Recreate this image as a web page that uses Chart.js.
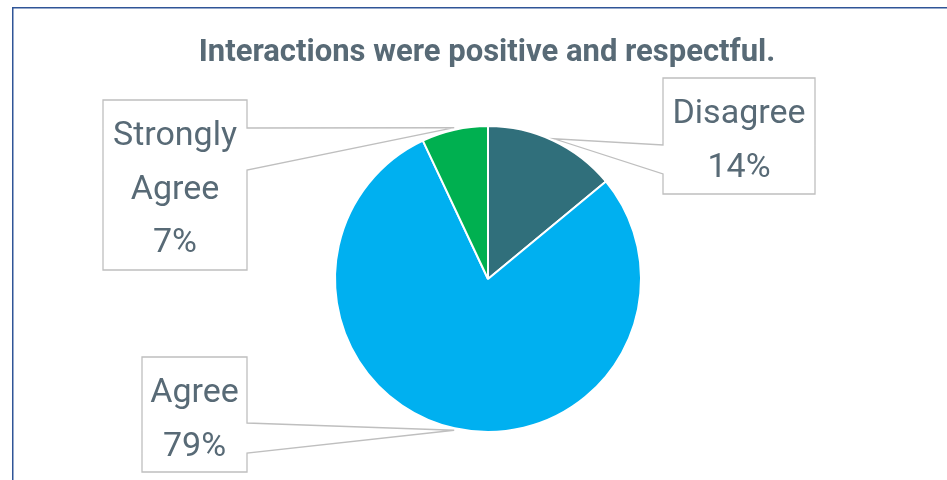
<!DOCTYPE html>
<html><head><meta charset="utf-8">
<script src="https://cdn.jsdelivr.net/npm/chart.js@4/dist/chart.umd.min.js"></script>
<style>html,body{margin:0;padding:0;background:#fff;}#wrap{width:947px;height:480px;position:relative;}</style>
</head><body><div id="wrap"><canvas id="c" width="947" height="480"></canvas></div>
<script>
const titleText = "Interactions were positive and respectful.";
const categories = ["Disagree", "Agree", "Strongly Agree"];
const values = [14, 79, 7];
const labelLines = [["Disagree", "14%"], ["Agree", "79%"], ["Strongly", "Agree", "7%"]];
const colors = ["#306F7B", "#00B0F0", "#00B050"];

// callout boxes: [left, top, right, bottom, side, attach1, attach2, first baseline]
const boxes = [
  {l:663, t:78, r:815, b:194, side:'left', a1:145, a2:174, base:123},
  {l:142, t:357, r:247, b:472, side:'right', a1:423, a2:453, base:402},
  {l:103, t:100, r:247, b:270, side:'right', a1:128, a2:170, base:145}
];
const lineGap = 53.5;
const textColor = "#586A76";

const overlay = {
  id: 'overlay',
  afterDraw(chart) {
    const ctx = chart.ctx;
    ctx.save();
    // frame
    ctx.strokeStyle = "#2F5597";
    ctx.lineWidth = 1.5;
    ctx.strokeRect(12.75, 7.75, 1200, 1200);
    // title
    ctx.fillStyle = textColor;
    ctx.font = "bold 31px Roboto";
    ctx.textAlign = "center";
    ctx.textBaseline = "alphabetic";
    ctx.fillText(titleText, 487, 61);
    const meta = chart.getDatasetMeta(0);
    meta.data.forEach((arc, i) => {
      const bx = boxes[i];
      const mid = (arc.startAngle + arc.endAngle) / 2;
      const tx = arc.x + Math.cos(mid) * (arc.outerRadius + 2);
      const ty = arc.y + Math.sin(mid) * (arc.outerRadius + 2);
      ctx.beginPath();
      ctx.strokeStyle = "#BFBFBF";
      ctx.lineWidth = 1.3;
      if (bx.side === 'right') {
        ctx.moveTo(bx.r, bx.a1);
        ctx.lineTo(bx.r, bx.t);
        ctx.lineTo(bx.l, bx.t);
        ctx.lineTo(bx.l, bx.b);
        ctx.lineTo(bx.r, bx.b);
        ctx.lineTo(bx.r, bx.a2);
        ctx.lineTo(tx, ty);
        ctx.closePath();
      } else {
        ctx.moveTo(bx.l, bx.a1);
        ctx.lineTo(bx.l, bx.t);
        ctx.lineTo(bx.r, bx.t);
        ctx.lineTo(bx.r, bx.b);
        ctx.lineTo(bx.l, bx.b);
        ctx.lineTo(bx.l, bx.a2);
        ctx.lineTo(tx, ty);
        ctx.closePath();
      }
      ctx.stroke();
      ctx.fillStyle = textColor;
      ctx.font = "34px Roboto";
      const cx = (bx.l + bx.r) / 2;
      labelLines[i].forEach((s, k) => ctx.fillText(s, cx, bx.base + k * lineGap));
    });
    ctx.restore();
  }
};

new Chart(document.getElementById('c'), {
  type: 'pie',
  data: {
    labels: categories,
    datasets: [{ data: values, backgroundColor: colors, borderColor: "#FFFFFF", borderWidth: 2 }]
  },
  options: {
    responsive: false,
    animation: false,
    layout: { padding: { top: 125, bottom: 47, left: 29, right: 0 } },
    plugins: { legend: { display: false }, tooltip: { enabled: false }, title: { display: false } }
  },
  plugins: [overlay]
});
</script></body></html>
